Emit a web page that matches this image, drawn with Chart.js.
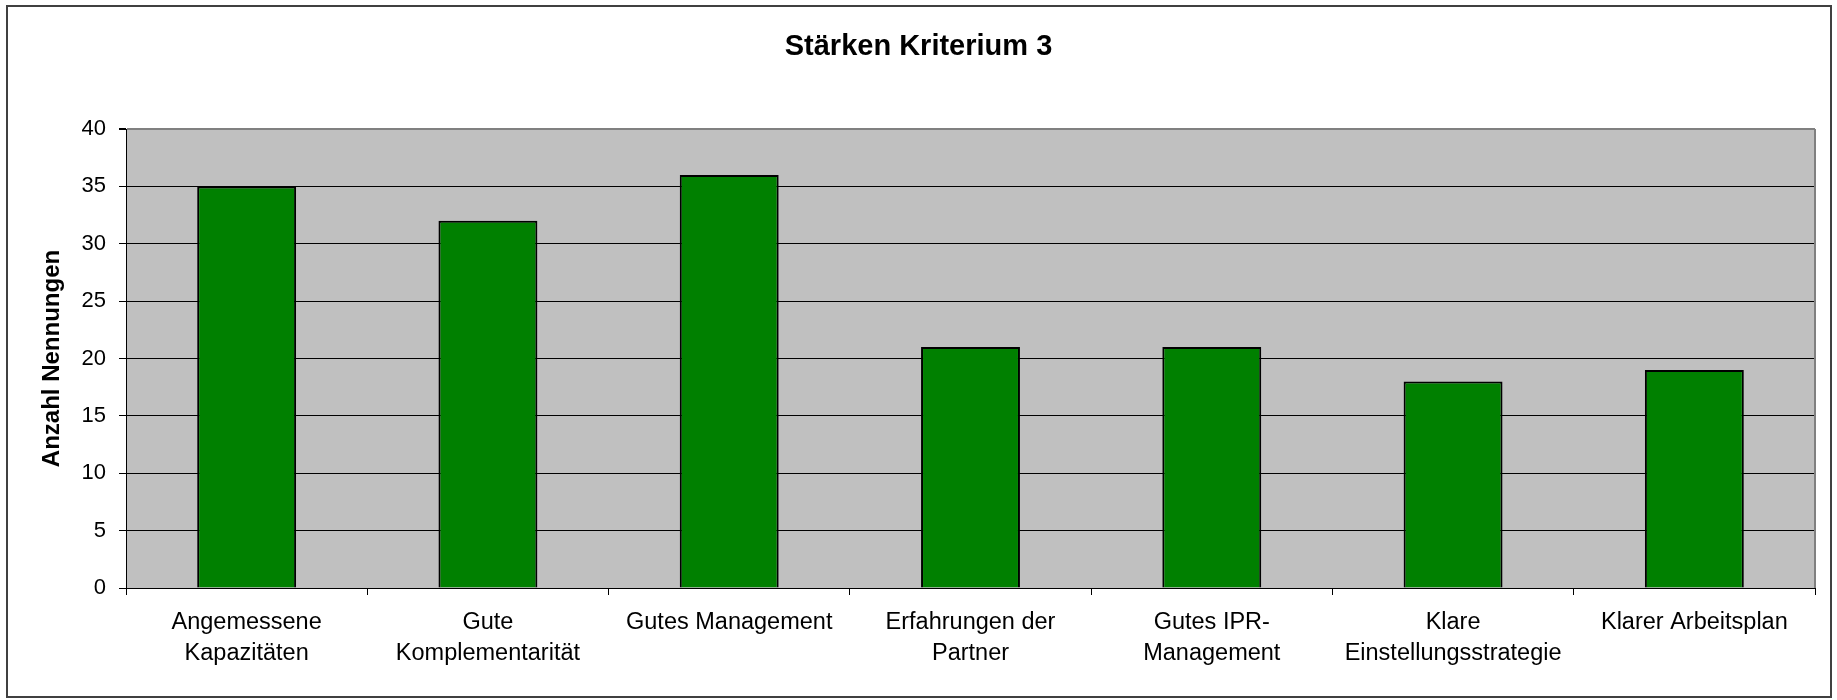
<!DOCTYPE html>
<html>
<head>
<meta charset="utf-8">
<script src="https://cdn.jsdelivr.net/npm/chart.js@4/dist/chart.umd.min.js"></script>
<style>
  html, body { margin: 0; padding: 0; background: #fff; }
  #wrap { position: relative; width: 1837px; height: 700px; }
</style>
</head>
<body>
<div id="wrap"><canvas id="chart" width="1837" height="700"></canvas></div>
<script>
const categories = [
  ['Angemessene', 'Kapazitäten'],
  ['Gute', 'Komplementarität'],
  'Gutes Management',
  ['Erfahrungen der', 'Partner'],
  ['Gutes IPR-', 'Management'],
  ['Klare', 'Einstellungsstrategie'],
  'Klarer Arbeitsplan'
];
const nennungen = [35, 32, 36, 21, 21, 18, 19];
const yTicks = [0, 5, 10, 15, 20, 25, 30, 35, 40];

const chartTitle = 'Stärken Kriterium 3';
const yTitle = 'Anzahl Nennungen';

Chart.defaults.font.family = '"Liberation Sans", Arial, sans-serif';
Chart.defaults.color = '#000';

// grey plot background, grey right edge and the outer frame
const frame = {
  id: 'frame',
  beforeDraw(chart) {
    const { ctx, chartArea: a } = chart;
    ctx.save();
    ctx.fillStyle = '#c0c0c0';
    ctx.fillRect(a.left, a.top, a.right - a.left, a.bottom - a.top);
    ctx.restore();
  },
  afterDraw(chart) {
    const { ctx, chartArea: a } = chart;
    ctx.save();
    ctx.strokeStyle = '#808080';
    ctx.lineWidth = 2;
    ctx.beginPath();
    ctx.moveTo(a.right, a.top);
    ctx.lineTo(a.right, a.bottom);
    ctx.stroke();
    ctx.strokeStyle = '#404040';
    ctx.lineWidth = 2;
    ctx.strokeRect(7, 6, 1824, 691);
    ctx.restore();
  }
};

new Chart(document.getElementById('chart'), {
  type: 'bar',
  data: {
    labels: categories,
    datasets: [{
      label: yTitle,
      data: nennungen,
      backgroundColor: '#008000',
      borderColor: '#000',
      borderWidth: 2,
      categoryPercentage: 1,
      barPercentage: 0.41
    }]
  },
  options: {
    responsive: false,
    animation: false,
    devicePixelRatio: 1,
    layout: { padding: { left: 22, right: 22, top: 0, bottom: 0 } },
    plugins: {
      legend: { display: false },
      tooltip: { enabled: false },
      title: {
        display: true,
        text: chartTitle,
        color: '#000',
        font: { size: 29, weight: 'bold' },
        padding: { top: 29.6, bottom: 64.6 }
      }
    },
    scales: {
      x: {
        grid: {
          offset: true,
          drawOnChartArea: false,
          drawTicks: true,
          tickLength: 7,
          tickColor: '#000'
        },
        border: { color: '#000', width: 1 },
        ticks: {
          autoSkip: false,
          maxRotation: 0,
          minRotation: 0,
          padding: 12,
          font: { size: 23.5, lineHeight: 1.33 },
          color: '#000'
        },
        afterFit(scale) { scale.height = 112; }
      },
      y: {
        min: 0,
        max: 40,
        afterBuildTicks(scale) { scale.ticks = yTicks.map(v => ({ value: v })); },
        grid: {
          color: ctx => (ctx.tick && ctx.tick.value === 40 ? '#808080' : '#000'),
          lineWidth: ctx => (ctx.tick && ctx.tick.value === 40 ? 2 : 1),
          tickLength: 7,
          tickColor: '#000'
        },
        border: { color: '#000', width: 1 },
        ticks: {
          padding: 13,
          font: { size: 22 },
          color: '#000'
        },
        title: {
          display: true,
          text: yTitle,
          color: '#000',
          font: { size: 24, weight: 'bold' },
          padding: { top: 16, bottom: 0 }
        },
        afterFit(scale) { scale.width = 104; }
      }
    }
  },
  plugins: [frame]
});
</script>
</body>
</html>
